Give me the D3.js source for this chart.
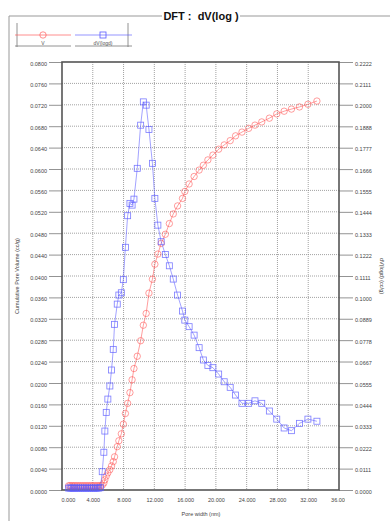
<!DOCTYPE html>
<html>
<head>
<meta charset="utf-8">
<script src="https://cdn.jsdelivr.net/npm/d3@7"></script>
<style>
  body { margin: 0; background: #fff; }
  svg { font-family: "Liberation Sans", Arial, sans-serif; }
  .title { white-space: pre; }
</style>
</head>
<body>
<div id="chart"></div>
<script>
// pore width (nm), shared by both series
const poreWidth = [0.86, 1.05, 1.27, 1.48, 1.70, 1.93, 2.16, 2.40, 2.64, 2.88, 3.12, 3.36, 3.60, 3.84, 4.08, 4.32, 4.55, 4.78, 5.00,
  5.23, 5.44, 5.57, 5.75, 5.96, 6.22, 6.44, 6.66, 6.83, 7.18, 7.39, 7.71, 7.97, 8.24, 8.53, 8.83, 9.11, 9.35, 9.78,
  10.22, 10.57, 10.94, 11.30, 11.75, 12.07, 12.46, 12.89, 13.43, 13.95, 14.46, 15.02, 15.66, 15.96, 16.52, 17.17,
  17.82, 18.37, 18.96, 19.61, 20.36, 21.08, 21.86, 22.56, 23.39, 24.26, 25.08, 25.96, 26.95, 27.91, 28.87, 29.82,
  30.86, 31.96, 33.13];
// cumulative pore volume (cc/g), left axis
const cumVolume = [0.0008, 0.0008, 0.0008, 0.0008, 0.0008, 0.0008, 0.0008, 0.0008, 0.0008, 0.0008, 0.0008, 0.0008, 0.0008, 0.0008, 0.0008, 0.0008, 0.0008, 0.0008, 0.0008,
  0.0009, 0.0013, 0.0019, 0.0026, 0.0032, 0.0038, 0.0045, 0.0053, 0.0062, 0.0081, 0.0092, 0.0105, 0.0123, 0.0143, 0.0162, 0.0182, 0.0206, 0.0227, 0.0250,
  0.0279, 0.0308, 0.0330, 0.0368, 0.0394, 0.0422, 0.0441, 0.0461, 0.0478, 0.0498, 0.0516, 0.0531, 0.0545, 0.0558, 0.0572, 0.0586,
  0.0598, 0.0607, 0.0617, 0.0626, 0.0637, 0.0645, 0.0653, 0.0662, 0.0669, 0.0676, 0.0682, 0.0688, 0.0695, 0.0703, 0.0708, 0.0712,
  0.0716, 0.0721, 0.0727];
// dV(logd) (cc/g), right axis
const dVlogd = [0.0010, 0.0010, 0.0010, 0.0010, 0.0010, 0.0010, 0.0010, 0.0010, 0.0010, 0.0010, 0.0010, 0.0010, 0.0010, 0.0010, 0.0010, 0.0010, 0.0010, 0.0010, 0.0012,
  0.0095, 0.0196, 0.0306, 0.0403, 0.0472, 0.0540, 0.0623, 0.0730, 0.0860, 0.0965, 0.1012, 0.1024, 0.1092, 0.1260, 0.1424, 0.1488, 0.1479, 0.1510, 0.1670,
  0.1894, 0.2015, 0.1998, 0.1872, 0.1696, 0.1514, 0.1375, 0.1289, 0.1223, 0.1164, 0.1095, 0.1012, 0.0929, 0.0882, 0.0848, 0.0804,
  0.0739, 0.0675, 0.0647, 0.0635, 0.0602, 0.0562, 0.0533, 0.0493, 0.0450, 0.0450, 0.0463, 0.0450, 0.0410, 0.0368, 0.0322, 0.0308,
  0.0346, 0.0368, 0.0357];

const xTicks = [0, 4, 8, 12, 16, 20, 24, 28, 32, 36];
const xTickLabels = ["0.000", "4.000", "8.000", "12.000", "16.000", "20.000", "24.000", "28.000", "32.000", "36.000"];
const leftTicks = d3.range(0, 21).map(i => i * 0.004);
const leftTickLabels = leftTicks.map(v => v.toFixed(4));
const rightTickLabels = ["0.0000", "0.0111", "0.0222", "0.0333", "0.0444", "0.0555", "0.0667", "0.0778", "0.0889", "0.1000", "0.1111",
  "0.1222", "0.1333", "0.1444", "0.1555", "0.1666", "0.1777", "0.1888", "0.2000", "0.2111", "0.2222"];
const rightTicks = rightTickLabels.map(Number);

const W = 390, H = 521;
const plot = { left: 62, right: 339, top: 62, bottom: 490 };
const red = "#ff5050", blue = "#5a5aff";

const svg = d3.select("#chart").append("svg").attr("width", W).attr("height", H);

const x = d3.scaleLinear().domain([0, 36]).range([plot.left, plot.right]);
const yL = d3.scaleLinear().domain([0, 0.08]).range([plot.bottom, plot.top]);
const yR = d3.scaleLinear().domain([0, 0.2222]).range([plot.bottom, plot.top]);

// outer frame with title
svg.append("path").attr("d", `M9,${H} V16 H162 M240,16 H${W}`)
  .attr("fill", "none").attr("stroke", "#999").attr("stroke-width", 1);
svg.append("text").attr("class", "title").attr("x", 201).attr("y", 20).attr("text-anchor", "middle")
  .attr("font-size", 11).attr("font-weight", "bold").attr("fill", "#111").text("DFT :  dV(log )");

// legend
const lg = svg.append("g").attr("stroke-width", 0.8);
lg.append("path").attr("d", "M17,23 V47 M128,23 V47 M15,46 H71 M75,46 H132").attr("stroke", "#777").attr("fill", "none");
lg.append("line").attr("x1", 15).attr("x2", 71).attr("y1", 35).attr("y2", 35).attr("stroke", red).attr("opacity", 0.8);
lg.append("circle").attr("cx", 43).attr("cy", 35).attr("r", 3.2).attr("fill", "none").attr("stroke", red).attr("opacity", 0.8);
lg.append("line").attr("x1", 75).attr("x2", 132).attr("y1", 35).attr("y2", 35).attr("stroke", blue).attr("opacity", 0.8);
lg.append("rect").attr("x", 100).attr("y", 32).attr("width", 6).attr("height", 6).attr("fill", "none").attr("stroke", blue);
lg.append("text").attr("x", 43).attr("y", 44.5).attr("text-anchor", "middle").attr("font-size", 5).attr("fill", "#555").text("V");
lg.append("text").attr("x", 103).attr("y", 44.5).attr("text-anchor", "middle").attr("font-size", 5).attr("fill", "#555").text("dV(logd)");

// grid
const grid = svg.append("g").attr("stroke", "#8a8a8a").attr("stroke-width", 0.8).attr("stroke-dasharray", "1,1");
grid.selectAll(".hg").data(leftTicks.slice(1, -1)).enter().append("line")
  .attr("x1", plot.left).attr("x2", plot.right).attr("y1", d => yL(d)).attr("y2", d => yL(d));
grid.selectAll(".vg").data(xTicks.slice(1, -1)).enter().append("line")
  .attr("y1", plot.top).attr("y2", plot.bottom).attr("x1", d => x(d)).attr("x2", d => x(d));

// left axis
const la = svg.append("g").attr("transform", `translate(${plot.left},0)`)
  .call(d3.axisLeft(yL).tickValues(leftTicks).tickFormat((d, i) => leftTickLabels[i]).tickSize(13).tickPadding(2));
la.select(".domain").remove();
la.selectAll("line").attr("stroke", "#777").attr("stroke-width", 0.8);
la.selectAll("text").attr("font-size", 5.5).attr("fill", "#444").attr("dy", "0.55em");

// right axis
const ra = svg.append("g").attr("transform", `translate(${plot.right},0)`)
  .call(d3.axisRight(yR).tickValues(rightTicks).tickFormat((d, i) => rightTickLabels[i]).tickSize(14).tickPadding(2));
ra.select(".domain").remove();
ra.selectAll("line").attr("stroke", "#777").attr("stroke-width", 0.8);
ra.selectAll("text").attr("font-size", 5.5).attr("fill", "#444").attr("dy", "0.55em");

// bottom axis, last label clipped like the original
svg.append("clipPath").attr("id", "xclip").append("rect").attr("x", 0).attr("y", 0).attr("width", 345).attr("height", H);
const ba = svg.append("g").attr("transform", `translate(0,${plot.bottom})`).attr("clip-path", "url(#xclip)")
  .call(d3.axisBottom(x).tickValues(xTicks).tickFormat((d, i) => xTickLabels[i]).tickSize(0).tickPadding(8));
ba.select(".domain").remove();
ba.selectAll("text").attr("font-size", 5.5).attr("fill", "#444")
  .attr("text-anchor", (d, i) => i === 0 ? "start" : "middle")
  .attr("dx", (d, i) => i === 0 ? -1 : 0);

// plot frame
svg.append("rect").attr("x", plot.left).attr("y", plot.top)
  .attr("width", plot.right - plot.left).attr("height", plot.bottom - plot.top)
  .attr("fill", "none").attr("stroke", "#555").attr("stroke-width", 1.6);

// axis titles
svg.append("text").attr("transform", "translate(19,276) rotate(-90)").attr("text-anchor", "middle")
  .attr("font-size", 5.5).attr("fill", "#444").text("Cumulative Pore Volume (cc/g)");
svg.append("text").attr("transform", "translate(380,276) rotate(90)").attr("text-anchor", "middle")
  .attr("font-size", 5.5).attr("fill", "#444").text("dV(logd) (cc/g)");
svg.append("text").attr("x", 201).attr("y", 516).attr("text-anchor", "middle")
  .attr("font-size", 5.5).attr("fill", "#444").text("Pore width (nm)");

// series
const vData = poreWidth.map((w, i) => ({ w, v: cumVolume[i] }));
const dData = poreWidth.map((w, i) => ({ w, v: dVlogd[i] }));

svg.append("path").datum(vData).attr("fill", "none").attr("stroke", red).attr("stroke-width", 0.7).attr("opacity", 0.8)
  .attr("d", d3.line().x(d => x(d.w)).y(d => yL(d.v)));
svg.append("g").selectAll("circle").data(vData).enter().append("circle")
  .attr("cx", d => x(d.w)).attr("cy", d => yL(d.v)).attr("r", 3.2)
  .attr("fill", "none").attr("stroke", red).attr("stroke-width", 0.8).attr("opacity", 0.7);

svg.append("path").datum(dData).attr("fill", "none").attr("stroke", blue).attr("stroke-width", 0.7).attr("opacity", 0.8)
  .attr("d", d3.line().x(d => x(d.w)).y(d => yR(d.v)));
svg.append("g").selectAll("rect").data(dData).enter().append("rect")
  .attr("x", d => x(d.w) - 3).attr("y", d => yR(d.v) - 3).attr("width", 6).attr("height", 6)
  .attr("fill", "none").attr("stroke", blue).attr("stroke-width", 0.8).attr("opacity", 0.8);
</script>
</body>
</html>
